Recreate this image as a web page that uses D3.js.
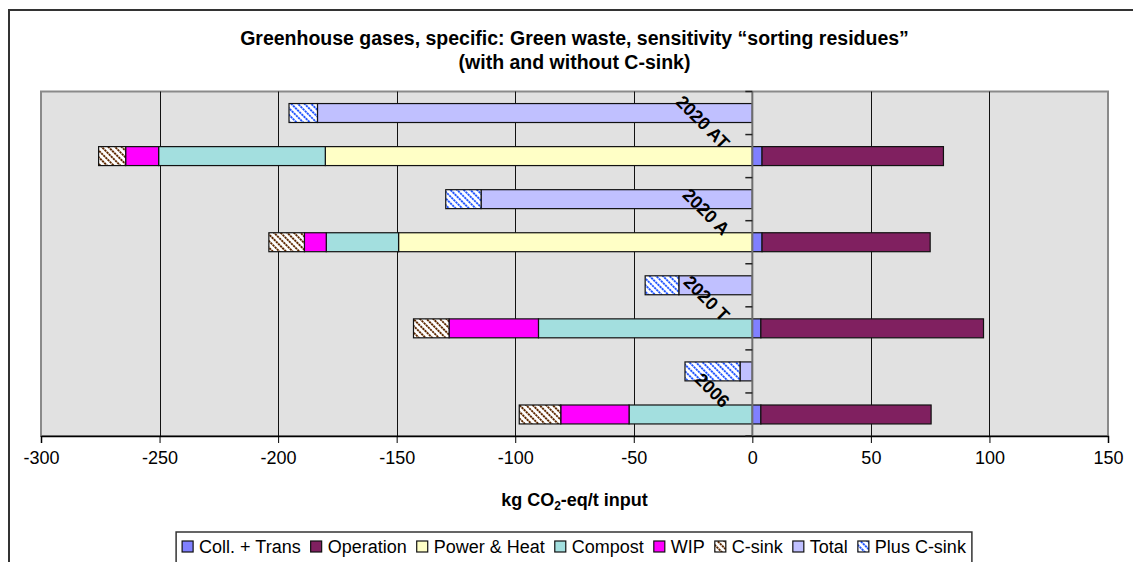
<!DOCTYPE html>
<html>
<head>
<meta charset="utf-8">
<script src="https://cdn.jsdelivr.net/npm/d3@7/dist/d3.min.js"></script>
<style>
  html, body { margin: 0; padding: 0; background: #fff; }
  svg { display: block; font-family: "Liberation Sans", Arial, sans-serif; }
</style>
</head>
<body>
<svg id="chart" width="1133" height="562"></svg>
<script>
// ---- data (kg CO2-eq / t input) ----
const categories = ["2020 AT", "2020 A", "2020 T", "2006"];
const collTrans  = [4.1, 4.1, 3.6, 3.6];
const operation  = [76.5, 70.9, 93.9, 71.8];
const powerHeat  = [-180.1, -149.2, 0, 0];
const compost    = [-70.3, -30.5, -90.2, -52.0];
const wip        = [-13.9, -9.2, -37.7, -28.8];
const cSink      = [-11.4, -15.0, -15.0, -17.5];
const total      = [-183.4, -114.4, -31.0, -5.2];
const plusCSink  = [-12.0, -14.9, -14.2, -23.2];
const xTicks     = [-300, -250, -200, -150, -100, -50, 0, 50, 100, 150];
const legendNames = ["Coll. + Trans", "Operation", "Power & Heat", "Compost", "WIP", "C-sink", "Total", "Plus C-sink"];

const titleLines = ["Greenhouse gases, specific: Green waste, sensitivity \u201Csorting residues\u201D",
                    "(with and without C-sink)"];

// ---- setup ----
const svg = d3.select("#chart");
const plot = {left: 41, right: 1108, top: 91.5, bottom: 436};

const defs = svg.append("defs");
function makePattern(id, color) {
  const p = defs.append("pattern").attr("id", id).attr("patternUnits", "userSpaceOnUse")
    .attr("width", 4.7).attr("height", 3.0).attr("patternTransform", "rotate(-45)");
  p.append("rect").attr("width", 4.7).attr("height", 3.0).attr("fill", "#fff");
  p.append("rect").attr("x", 0).attr("y", 0).attr("width", 1.9).attr("height", 2.3).attr("fill", color);
}
makePattern("patCsink", "#5e2800");
makePattern("patPlus", "#2256ff");

const colors = {
  "Coll. + Trans": "#8080ff",
  "Operation": "#802060",
  "Power & Heat": "#ffffc6",
  "Compost": "#a3dfdf",
  "WIP": "#ff00ff",
  "C-sink": "url(#patCsink)",
  "Total": "#c0c0ff",
  "Plus C-sink": "url(#patPlus)"
};

// outer frame
svg.append("rect").attr("x", 9).attr("y", 10).attr("width", 1200).attr("height", 700)
  .attr("fill", "#fff").attr("stroke", "#333").attr("stroke-width", 2);

// scales
const x = d3.scaleLinear().domain([-300, 150]).range([plot.left, plot.right]);
const rows = [];
categories.forEach(c => { rows.push(c + "|total"); rows.push(c + "|detail"); });
const y = d3.scaleBand().domain(rows).range([plot.top, plot.bottom])
  .paddingInner(0.56).paddingOuter(0.28);

// plot background
svg.append("rect").attr("x", plot.left).attr("y", plot.top)
  .attr("width", plot.right - plot.left).attr("height", plot.bottom - plot.top)
  .attr("fill", "#e1e1e1").attr("stroke", "#8a8a8a").attr("stroke-width", 2);

// gridlines
svg.append("g").selectAll("line").data(xTicks.filter(t => t > -300 && t < 150 && t !== 0)).join("line")
  .attr("x1", d => Math.round(x(d)) + 0.5).attr("x2", d => Math.round(x(d)) + 0.5)
  .attr("y1", plot.top).attr("y2", plot.bottom)
  .attr("stroke", "#111").attr("stroke-width", 1);

// bottom axis
const xAxis = d3.axisBottom(x).tickValues(xTicks).tickSize(7).tickPadding(8);
const gx = svg.append("g").attr("transform", `translate(0,${plot.bottom})`).call(xAxis);
gx.select(".domain").attr("stroke", "#000").attr("stroke-width", 1.5);
gx.selectAll(".tick line").attr("stroke", "#000");
gx.selectAll(".tick text").attr("font-size", 18).attr("fill", "#000")
  .attr("font-family", "'Liberation Sans', Arial, sans-serif").text(d => d < 0 ? "-" + Math.abs(d) : d);

// stacked bars
function stackRow(rowKey, parts) {
  let pos = 0, neg = 0;
  const out = [];
  parts.forEach(p => {
    if (p.v >= 0) { out.push({row: rowKey, name: p.name, x0: pos, x1: pos + p.v}); pos += p.v; }
    else { out.push({row: rowKey, name: p.name, x0: neg + p.v, x1: neg}); neg += p.v; }
  });
  return out;
}
let segs = [];
categories.forEach((c, i) => {
  segs = segs.concat(stackRow(c + "|total", [
    {name: "Total", v: total[i]}, {name: "Plus C-sink", v: plusCSink[i]}]));
  segs = segs.concat(stackRow(c + "|detail", [
    {name: "Coll. + Trans", v: collTrans[i]}, {name: "Operation", v: operation[i]},
    {name: "Power & Heat", v: powerHeat[i]}, {name: "Compost", v: compost[i]},
    {name: "WIP", v: wip[i]}, {name: "C-sink", v: cSink[i]}]));
});
segs = segs.filter(s => s.x1 - s.x0 > 0.01);

svg.append("g").selectAll("rect").data(segs).join("rect")
  .attr("x", d => x(d.x0)).attr("width", d => x(d.x1) - x(d.x0))
  .attr("y", d => y(d.row)).attr("height", y.bandwidth())
  .attr("fill", d => colors[d.name]).attr("stroke", "#111").attr("stroke-width", 1.2);

// category axis at zero
const x0 = x(0);
svg.append("line").attr("x1", x0).attr("x2", x0).attr("y1", plot.top).attr("y2", plot.bottom)
  .attr("stroke", "#6e6e6e").attr("stroke-width", 2);
const step = y.step();
const tickYs = d3.range(rows.length + 1).map(i => plot.top + i * step);
svg.append("g").selectAll("line").data(tickYs).join("line")
  .attr("x1", x0 - 7).attr("x2", x0).attr("y1", d => d).attr("y2", d => d)
  .attr("stroke", "#222").attr("stroke-width", 1.5);

// category labels (rotated)
svg.append("g").selectAll("text").data(categories).join("text")
  .attr("transform", c => `translate(${x0 - 26},${y(c + "|detail") + y.bandwidth() / 2 - 10}) rotate(45)`)
  .attr("text-anchor", "end").attr("dominant-baseline", "central")
  .attr("font-size", 18).attr("font-weight", "bold").attr("fill", "#000").text(c => c);

// title
svg.append("g").selectAll("text").data(titleLines).join("text")
  .attr("x", 574.5).attr("y", (d, i) => 45 + i * 24)
  .attr("text-anchor", "middle").attr("font-size", 19.5).attr("font-weight", "bold").text(d => d);

// axis title
const at = svg.append("text").attr("x", 574.5).attr("y", 506).attr("text-anchor", "middle")
  .attr("font-size", 18).attr("font-weight", "bold");
at.append("tspan").text("kg CO");
at.append("tspan").attr("font-size", 12).attr("dy", 4).text("2");
at.append("tspan").attr("dy", -4).text("-eq/t input");

// legend
const lg = svg.append("g");
const box = lg.append("rect").attr("fill", "#fff").attr("stroke", "#333").attr("stroke-width", 1.5);
let lx = 0;
legendNames.forEach(n => {
  const g = lg.append("g").attr("transform", `translate(${lx},0)`);
  g.append("rect").attr("x", 0).attr("y", -12).attr("width", 11).attr("height", 11)
    .attr("fill", colors[n]).attr("stroke", "#111").attr("stroke-width", 1.2);
  const t = g.append("text").attr("x", 17).attr("y", 0).attr("font-size", 18).text(n);
  const w = t.node().getComputedTextLength();
  lx += 17 + w + 10;
});
const contentW = lx - 10;
const lLeft = 574 - contentW / 2;
lg.attr("transform", `translate(${lLeft},553)`);
box.attr("x", -6).attr("y", -21).attr("width", contentW + 12).attr("height", 60);
</script>
</body>
</html>
